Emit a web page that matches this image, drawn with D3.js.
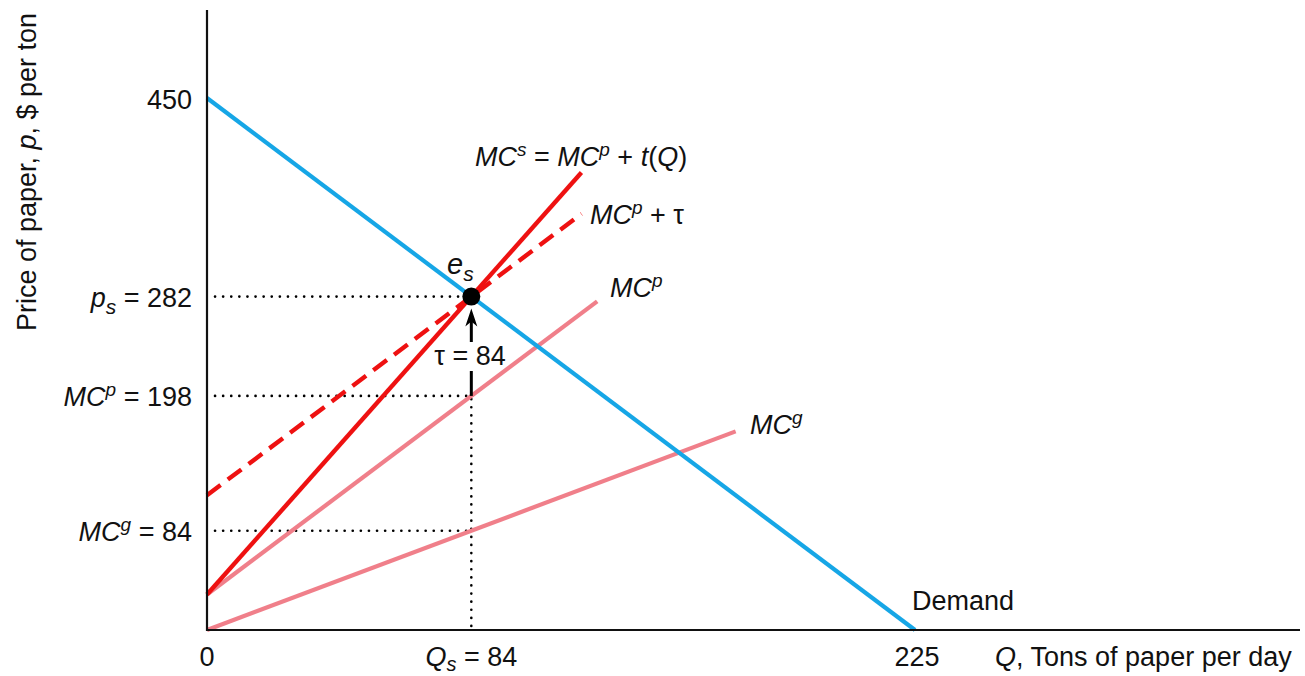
<!DOCTYPE html>
<html><head><meta charset="utf-8">
<script src="https://cdn.jsdelivr.net/npm/d3@7"></script>
<style>body{margin:0;background:#fff}svg{display:block;font-family:"Liberation Sans",Arial,sans-serif}</style>
</head><body>
<svg id="c" width="1305" height="676"></svg>
<script>
// Data
const demand = [[0,450],[225,0]];
const mcP = [[0,30],[124,278]];
const mcG = [[0,0],[168,168]];
const mcS = [[0,30],[119,387]];
const mcPTau = [[0,114],[119,352]];
const eq = {q:84, p:282};
const mcPAtQ = 198, mcGAtQ = 84, tau = 84;

const svg = d3.select("#c");
const x = d3.scaleLinear().domain([0,225]).range([207,915]);
const y = d3.scaleLinear().domain([0,450]).range([630,98]);
const line = d3.line().x(d=>x(d[0])).y(d=>y(d[1]));

const blue="#16a6e6", red="#ee1111", pink="#f07f8a";

// dotted guides
const dot = {"stroke":"#000","stroke-width":2.6,"stroke-dasharray":"0.1,8","stroke-linecap":"round"};
function guide(x1,y1,x2,y2){
  const l=svg.append("line").attr("x1",x1).attr("y1",y1).attr("x2",x2).attr("y2",y2);
  for(const k in dot) l.attr(k,dot[k]);
}
guide(x(0)+8,y(eq.p),x(eq.q),y(eq.p));
guide(x(0)+8,y(mcPAtQ),x(eq.q),y(mcPAtQ));
guide(x(0)+8,y(mcGAtQ),x(eq.q),y(mcGAtQ));
guide(x(eq.q),y(0)-4,x(eq.q),y(mcPAtQ));

// curves
svg.append("path").attr("d",line(mcG)).attr("stroke",pink).attr("stroke-width",4.2).attr("fill","none");
svg.append("path").attr("d",line(mcP)).attr("stroke",pink).attr("stroke-width",4.2).attr("fill","none");
svg.append("path").attr("d",line(demand)).attr("stroke",blue).attr("stroke-width",4.2).attr("fill","none");
svg.append("path").attr("d",line(mcPTau)).attr("stroke",red).attr("stroke-width",4.4).attr("fill","none").attr("stroke-dasharray","17,9");
svg.append("path").attr("d",line(mcS)).attr("stroke",red).attr("stroke-width",4.4).attr("fill","none");

// axes
svg.append("line").attr("x1",x(0)).attr("y1",10).attr("x2",x(0)).attr("y2",y(0)+1).attr("stroke","#111").attr("stroke-width",2.2);
svg.append("line").attr("x1",x(0)-1).attr("y1",y(0)).attr("x2",1300).attr("y2",y(0)).attr("stroke","#111").attr("stroke-width",2.2);

// tau arrow
svg.append("line").attr("x1",x(eq.q)).attr("y1",y(mcPAtQ)).attr("x2",x(eq.q)).attr("y2",371).attr("stroke","#000").attr("stroke-width",3);
svg.append("line").attr("x1",x(eq.q)).attr("y1",342).attr("x2",x(eq.q)).attr("y2",318).attr("stroke","#000").attr("stroke-width",3);
svg.append("path").attr("d",`M${x(eq.q)},${y(eq.p)+12} l-6,18 l6,-5 l6,5 z`).attr("fill","#000");

// equilibrium point
svg.append("circle").attr("cx",x(eq.q)).attr("cy",y(eq.p)).attr("r",9).attr("fill","#000");

// text helper
const FS=27;
function txt(xp,yp,anchor,parts,size){
  const t=svg.append("text").attr("x",xp).attr("y",yp).attr("text-anchor",anchor).attr("font-size",size||FS).attr("fill","#111");
  parts.forEach(p=>{
    const s=t.append("tspan").text(p.t);
    if(p.i) s.attr("font-style","italic");
    if(p.sup){s.attr("dy",-10).attr("font-size",19);}
    if(p.sub){s.attr("dy",7).attr("font-size",21);}
    if(p.back) s.attr("dy",p.back);
  });
  return t;
}
txt(192,109,"end",[{t:"450"}]);
txt(192,307,"end",[{t:"p",i:1},{t:"s",i:1,sub:1},{t:" = 282",back:-7}]);
txt(192,406,"end",[{t:"MC",i:1},{t:"p",i:1,sup:1},{t:" = 198",back:10}]);
txt(192,541,"end",[{t:"MC",i:1},{t:"g",i:1,sup:1},{t:" = 84",back:10}]);
txt(x(0),666,"middle",[{t:"0"}]);
const qs=svg.append("text").attr("x",x(eq.q)).attr("y",666).attr("text-anchor","middle").attr("font-size",FS).attr("fill","#111");
qs.append("tspan").text("Q").attr("font-style","italic");
qs.append("tspan").text("s").attr("font-style","italic").attr("font-size",20).attr("dy",5);
qs.append("tspan").text(" = 84").attr("dy",-5);
txt(x(225)+2,666,"middle",[{t:"225"}]);
txt(995,666,"start",[{t:"Q",i:1},{t:", Tons of paper per day"}]);
txt(912,610,"start",[{t:"Demand"}]);
txt(475,166,"start",[{t:"MC",i:1},{t:"s",i:1,sup:1},{t:" = ",back:10},{t:"MC",i:1},{t:"p",i:1,sup:1},{t:" + ",back:10},{t:"t",i:1},{t:"(",},{t:"Q",i:1},{t:")"}]);
txt(590,224,"start",[{t:"MC",i:1},{t:"p",i:1,sup:1},{t:" + τ",back:10}]);
txt(610,297,"start",[{t:"MC",i:1},{t:"p",i:1,sup:1}]);
txt(750,434,"start",[{t:"MC",i:1},{t:"g",i:1,sup:1}]);
txt(447,274,"start",[{t:"e",i:1},{t:"s",i:1,sub:1}],29);
txt(470,365,"middle",[{t:"τ = 84"}]);
// y title
const yt=svg.append("text").attr("transform","translate(36,172) rotate(-90)").attr("text-anchor","middle").attr("font-size",FS).attr("fill","#111");
yt.append("tspan").text("Price of paper, ");
yt.append("tspan").text("p").attr("font-style","italic");
yt.append("tspan").text(", $ per ton");
</script>
</body></html>
